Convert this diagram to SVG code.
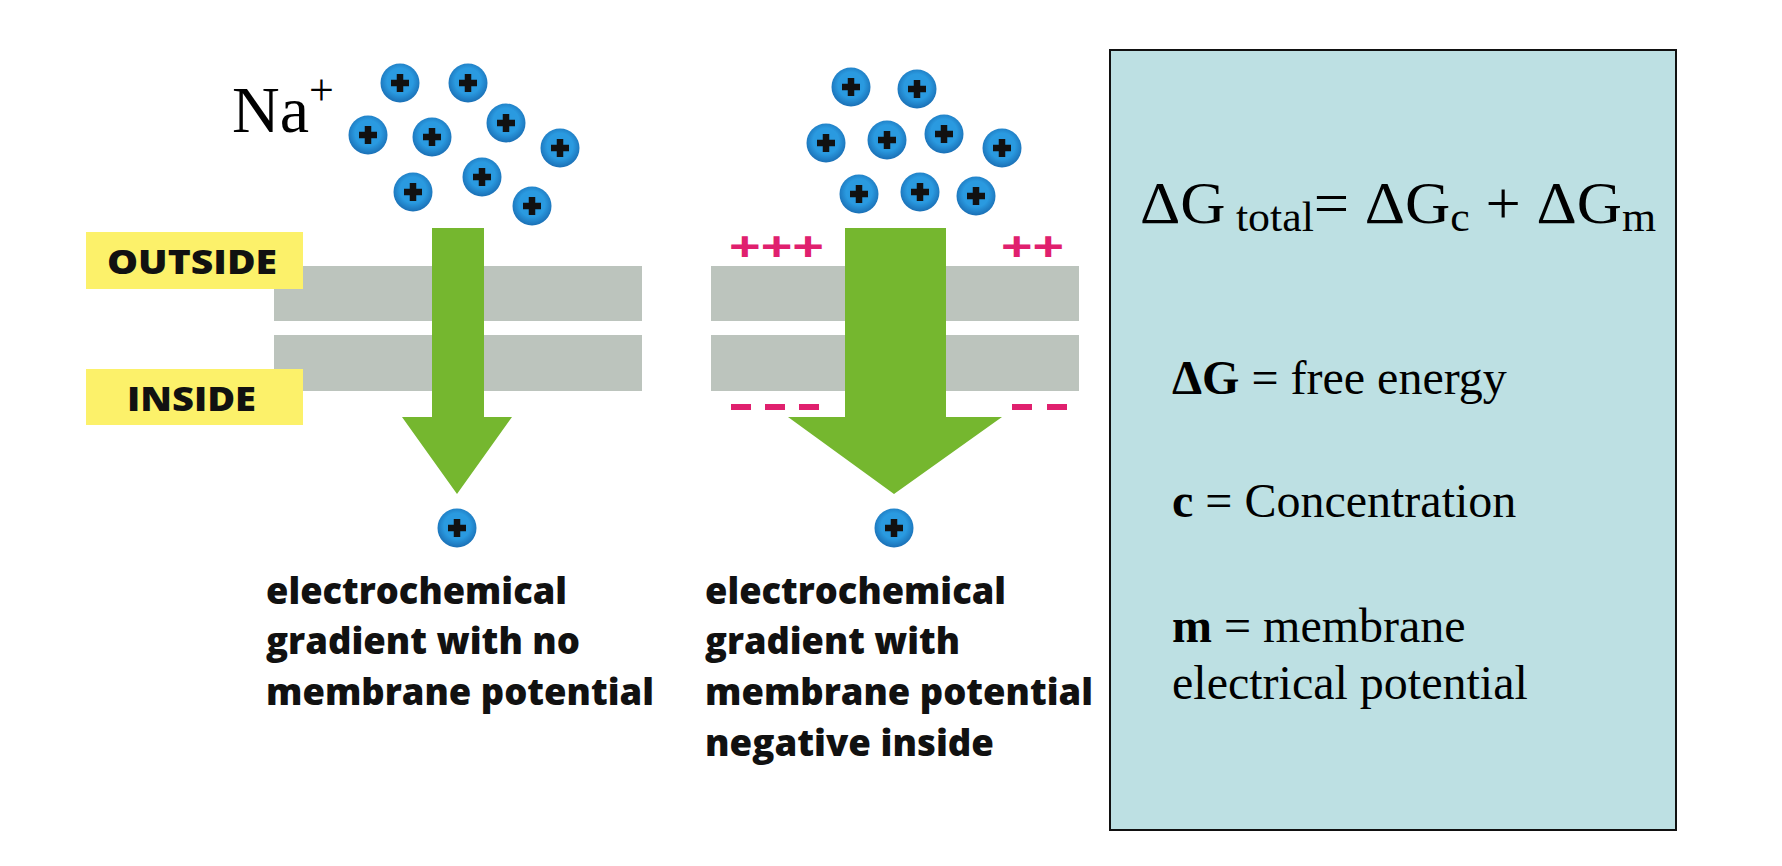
<svg xmlns="http://www.w3.org/2000/svg" width="1782" height="866" viewBox="0 0 1782 866">
<defs>
<radialGradient id="ion" cx="0.5" cy="0.45" r="0.55"><stop offset="0.6" stop-color="#2a9ae0"/><stop offset="1" stop-color="#1a6fb5"/></radialGradient>
<g id="p"><circle r="19.5" fill="url(#ion)"/><path d="M-9,0H9M0,-9V9" stroke="#111" stroke-width="6.5"/></g>
</defs>
<style>
.cap{font-family:"Open Sans","Liberation Sans",sans-serif;font-weight:800;font-size:37px;fill:#111}
.lab{font-family:"Open Sans","Liberation Sans",sans-serif;font-weight:800;font-size:34px;fill:#111}
.tm{font-family:"Liberation Serif",serif;fill:#000}
.mem{fill:#bcc4bd}
.chg{font-family:"Liberation Sans",sans-serif;font-weight:bold;font-size:40px;fill:#e0206e}
</style>
<rect width="1782" height="866" fill="#fff"/>
<g id="membrane-left"><rect class="mem" x="274" y="266" width="368" height="55"/><rect class="mem" x="274" y="335" width="368" height="56"/></g>
<g id="membrane-right"><rect class="mem" x="711" y="266" width="368" height="55"/><rect class="mem" x="711" y="335" width="368" height="56"/></g>
<g id="outside"><rect x="86" y="232" width="217" height="57" fill="#fcf16a"/><text class="lab" x="107" y="274" textLength="170" lengthAdjust="spacingAndGlyphs">OUTSIDE</text></g>
<g id="inside"><rect x="86" y="369" width="217" height="56" fill="#fcf16a"/><text class="lab" x="127" y="411" textLength="129" lengthAdjust="spacingAndGlyphs">INSIDE</text></g>
<g id="connectors">
<polygon points="432,228 484,228 484,417 512,417 457,494 402,417 432,417" fill="#75b72f"/>
<polygon points="845,228 946,228 946,417 1002,417 894,494 788,417 845,417" fill="#75b72f"/>
</g>
<g id="charges">
<text class="chg" x="729" y="260" textLength="95" lengthAdjust="spacingAndGlyphs">+++</text>
<text class="chg" x="1001" y="260" textLength="63" lengthAdjust="spacingAndGlyphs">++</text>
<rect x="731" y="404" width="20" height="6" fill="#e0206e"/><rect x="765" y="404" width="20" height="6" fill="#e0206e"/><rect x="799" y="404" width="20" height="6" fill="#e0206e"/>
<rect x="1012" y="404" width="20" height="6" fill="#e0206e"/><rect x="1047" y="404" width="20" height="6" fill="#e0206e"/>
</g>
<g id="ions-left">
<use href="#p" x="400" y="83"/><use href="#p" x="468" y="83"/><use href="#p" x="368" y="135"/><use href="#p" x="432" y="137"/><use href="#p" x="506" y="123"/><use href="#p" x="560" y="148"/><use href="#p" x="413" y="192"/><use href="#p" x="482" y="177"/><use href="#p" x="532" y="206"/>
</g>
<g id="ions-right">
<use href="#p" x="851" y="87"/><use href="#p" x="917" y="89"/><use href="#p" x="826" y="143"/><use href="#p" x="887" y="140"/><use href="#p" x="944" y="134"/><use href="#p" x="1002" y="148"/><use href="#p" x="859" y="194"/><use href="#p" x="920" y="192"/><use href="#p" x="976" y="196"/>
</g>
<g id="ion-bottom"><use href="#p" x="457" y="528"/><use href="#p" x="894" y="528"/></g>
<g id="na"><text class="tm" x="232" y="132" font-size="66">Na<tspan font-size="44" dy="-27">+</tspan></text></g>
<g id="caption-left" class="cap">
<text x="266" y="604" textLength="301" lengthAdjust="spacingAndGlyphs">electrochemical</text><text x="266" y="654" textLength="314" lengthAdjust="spacingAndGlyphs">gradient with no</text><text x="266" y="705" textLength="388" lengthAdjust="spacingAndGlyphs">membrane potential</text>
</g>
<g id="caption-right" class="cap">
<text x="705" y="604" textLength="301" lengthAdjust="spacingAndGlyphs">electrochemical</text><text x="705" y="654" textLength="255" lengthAdjust="spacingAndGlyphs">gradient with</text><text x="705" y="705" textLength="388" lengthAdjust="spacingAndGlyphs">membrane potential</text><text x="705" y="756" textLength="289" lengthAdjust="spacingAndGlyphs">negative inside</text>
</g>
<g id="box">
<rect x="1110" y="50" width="566" height="780" fill="#bde0e3" stroke="#111" stroke-width="2"/>
<text class="tm" x="1140" y="223" font-size="60" textLength="516" lengthAdjust="spacingAndGlyphs">ΔG<tspan font-size="42" dx="10" dy="8">total</tspan><tspan dy="-8">= ΔG</tspan><tspan font-size="42" dy="8">c</tspan><tspan dy="-8"> + ΔG</tspan><tspan font-size="42" dy="8">m</tspan></text>
<text class="tm" x="1172" y="394" font-size="48"><tspan font-weight="bold">ΔG</tspan> =  free energy</text>
<text class="tm" x="1172" y="517" font-size="48"><tspan font-weight="bold">c</tspan> = Concentration</text>
<text class="tm" x="1172" y="642" font-size="48"><tspan font-weight="bold">m</tspan> = membrane</text>
<text class="tm" x="1172" y="699" font-size="48">electrical potential</text>
</g>
</svg>
